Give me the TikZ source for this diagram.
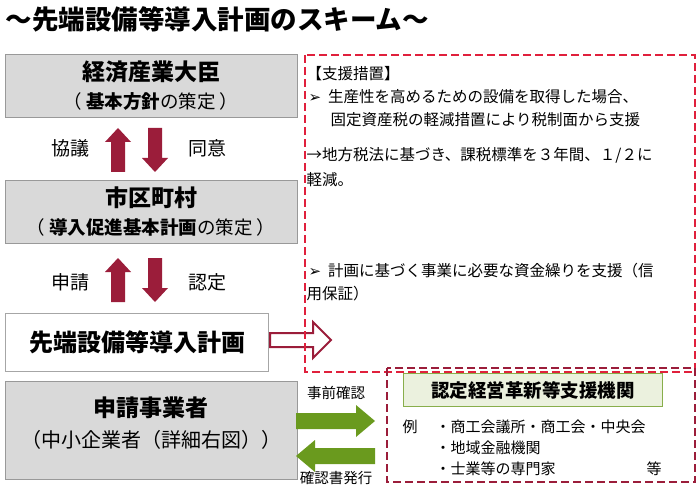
\documentclass[tikz,border=0pt]{standalone}
\usepackage{fontspec}
\newfontfamily\cjk{Noto Sans CJK JP}
\newfontfamily\djv{DejaVu Sans}
\definecolor{dred}{HTML}{9B1D3A}
\definecolor{lred}{HTML}{E0203C}
\definecolor{grn}{HTML}{6A9A1E}
\definecolor{lgrn}{HTML}{EBF1DE}
\definecolor{gbox}{HTML}{D9D9D9}
\begin{document}
\begin{tikzpicture}[x=1pt,y=-1pt,font=\cjk,
  graybox/.style={draw=gray!80,fill=gbox,line width=1pt},
  lbl/.style={font=\cjk\fontsize{19}{22}\selectfont},
  big/.style={font=\cjk\bfseries\fontsize{23}{26}\selectfont},
  sub/.style={font=\cjk\fontsize{18.5}{21}\selectfont},
  txt/.style={font=\cjk\fontsize{15.5}{18}\selectfont,anchor=west},
  ex/.style={font=\cjk\fontsize{15}{18}\selectfont,anchor=west}]
\useasboundingbox (0,0) rectangle (700,486);
\node[anchor=west,font=\cjk\bfseries\fontsize{26.5}{30}\selectfont] (title) at (2,19) {～先端設備等導入計画のスキーム～};
\node[graybox,minimum width=292pt,minimum height=63pt] (b1) at (151,86) {};
\node[big] (b1a) at (151,72) {経済産業大臣};
\node[sub] (b1b) at (151,101) {（ \textbf{基本方針}の策定 ）};
\foreach \cy in {150,280}{
 \fill[dred] (118,\cy-22) -- (131,\cy-8) -- (125,\cy-8) -- (125,\cy+22) -- (111,\cy+22) -- (111,\cy-8) -- (105,\cy-8) -- cycle;
 \fill[dred] (155,\cy+22) -- (168,\cy+8) -- (162,\cy+8) -- (162,\cy-22) -- (148,\cy-22) -- (148,\cy+8) -- (142,\cy+8) -- cycle;
}
\node[lbl] (l1) at (70,148) {協議};
\node[lbl] (l2) at (207,148) {同意};
\node[graybox,minimum width=292pt,minimum height=63pt] (b2) at (151,212) {};
\node[big] (b2a) at (151,198) {市区町村};
\node[sub] (b2b) at (151,227) {（ \textbf{導入促進基本計画}の策定 ）};
\node[lbl] (l3) at (70,282) {申請};
\node[lbl] (l4) at (207,282) {認定};
\node[draw=gray!70,line width=1pt,fill=white,minimum width=263pt,minimum height=58pt,font=\cjk\bfseries\fontsize{24}{27}\selectfont] (b3) at (137,342) {先端設備等導入計画};
\draw[dred,line width=2pt,fill=white,line join=miter] (270,333) -- (313,333) -- (313,322) -- (331,340) -- (313,358) -- (313,347) -- (270,347) -- cycle;
\node[graybox,minimum width=292pt,minimum height=98pt] (b4) at (151,430) {};
\node[big] (b4a) at (151,408) {申請事業者};
\node[font=\cjk\fontsize{20}{23}\selectfont] (b4b) at (151,440) {（中小企業者（詳細右図））};
\draw[lred,line width=1.8pt,dash pattern=on 8pt off 4pt] (305,55) rectangle (695,372);
\node[txt] (s0) at (303,74) {【支援措置】};
\node[txt] (s1) at (305,97) {{\djv\fontsize{15}{16}\selectfont ➢}\ \ 生産性を高めるための設備を取得した場合、};
\node[txt] (s2) at (327,120) {固定資産税の軽減措置により税制面から支援};
\node[txt] (s3) at (303,155) {→地方税法に基づき、課税標準を３年間、１/２に};
\node[txt] (s4) at (303,180) {軽減。};
\node[txt] (s5) at (305,271) {{\djv\fontsize{15}{16}\selectfont ➢}\ \ 計画に基づく事業に必要な資金繰りを支援（信};
\node[txt] (s6) at (303,294) {用保証）};
\fill[grn] (296,413) -- (356,413) -- (356,405) -- (375,421) -- (356,437) -- (356,429) -- (296,429) -- cycle;
\fill[grn] (375,448) -- (315,448) -- (315,440) -- (296,456) -- (315,472) -- (315,464) -- (375,464) -- cycle;
\node[font=\cjk\fontsize{14.5}{17}\selectfont] (g1) at (336,393) {事前確認};
\node[font=\cjk\fontsize{14.5}{17}\selectfont] (g2) at (336,478) {確認書発行};
\draw[dred,line width=1.8pt,dash pattern=on 8pt off 4pt] (387,368) rectangle (695,482);
\node[draw=grn!80,line width=1.6pt,fill=lgrn,minimum width=259pt,minimum height=33pt,font=\cjk\bfseries\fontsize{18.5}{20}\selectfont] (kb) at (533,390) {認定経営革新等支援機関};
\node[ex] (e0) at (399,427) {例};
\node[ex] (e1) at (432,427) {・商工会議所・商工会・中央会};
\node[ex] (e2) at (432,448) {・地域金融機関};
\node[ex] (e3) at (432,469) {・士業等の専門家};
\node[ex] (e4) at (643,469) {等};
\end{tikzpicture}
\end{document}
